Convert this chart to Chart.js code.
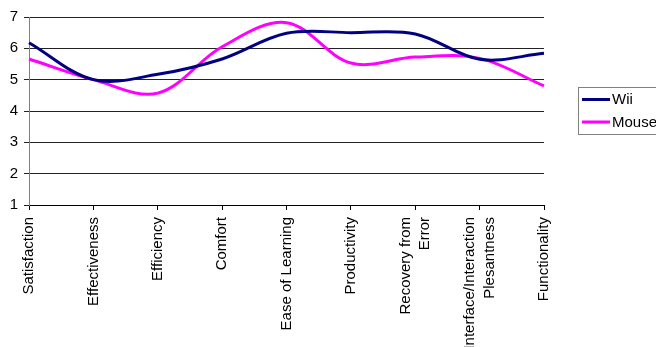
<!DOCTYPE html>
<html>
<head>
<meta charset="utf-8">
<script src="https://cdn.jsdelivr.net/npm/chart.js@4"></script>
<style>
  html, body { margin: 0; padding: 0; background: #fff; }
  #wrap { width: 656px; height: 347px; position: relative; }
</style>
</head>
<body>
<div id="wrap"><canvas id="c" width="656" height="347"></canvas></div>
<script>
// Usability ratings per criterion
const categories = [
  ['Satisfaction'],
  ['Effectiveness'],
  ['Efficiency'],
  ['Comfort'],
  ['Ease of Learning'],
  ['Productivity'],
  ['Recovery from', 'Error'],
  ['Interface/Interaction', 'Plesantness'],
  ['Functionality']
];
const seriesNames = ['Wii', 'Mouse'];
const wiiScores   = [6.18, 5.0, 5.17, 5.66, 6.48, 6.5, 6.46, 5.65, 5.84];
const mouseScores = [5.66, 5.0, 4.57, 6.05, 6.82, 5.53, 5.72, 5.68, 4.8];
const yRange = { min: 1, max: 7, step: 1 };

const FONT = 'Liberation Sans, Arial, Helvetica, sans-serif';
const FONT_SIZE = 15;

// Category labels: rotated, multi-line labels centred on their tick
const categoryLabels = {
  id: 'categoryLabels',
  afterDraw(chart) {
    const xs = chart.scales.x;
    const ctx = chart.ctx;
    const lh = 19.5;
    ctx.save();
    ctx.fillStyle = '#000';
    ctx.font = FONT_SIZE + 'px ' + FONT;
    ctx.textAlign = 'right';
    ctx.textBaseline = 'middle';
    categories.forEach((lines, i) => {
      const px = xs.getPixelForTick(i);
      const n = lines.length;
      lines.forEach((line, k) => {
        ctx.save();
        ctx.translate(px + (k - (n - 1) / 2) * lh, xs.top + 12);
        ctx.rotate(-Math.PI / 2);
        ctx.fillText(line, 0, 0);
        ctx.restore();
      });
    });
    ctx.restore();
  }
};

// Boxed legend with line swatches, to the right of the plot
const boxedLegend = {
  id: 'boxedLegend',
  afterDraw(chart) {
    const ctx = chart.ctx;
    const area = chart.chartArea;
    const left = area.right + 34;
    const top = 87;
    ctx.save();
    ctx.strokeStyle = '#808080';
    ctx.lineWidth = 1;
    ctx.strokeRect(left + 0.5, top + 0.5, 100, 47);
    ctx.font = FONT_SIZE + 'px ' + FONT;
    ctx.textBaseline = 'middle';
    ctx.textAlign = 'left';
    chart.data.datasets.forEach((ds, i) => {
      const y = top + 12.5 + i * 22.5;
      ctx.strokeStyle = ds.borderColor;
      ctx.lineWidth = 3;
      ctx.beginPath();
      ctx.moveTo(left + 4, y);
      ctx.lineTo(left + 32, y);
      ctx.stroke();
      ctx.fillStyle = '#000';
      ctx.fillText(ds.label, left + 34, y + 0.5);
    });
    ctx.restore();
  }
};

new Chart(document.getElementById('c'), {
  type: 'line',
  data: {
    labels: categories,
    datasets: [
      {
        label: seriesNames[0],
        data: wiiScores,
        borderColor: '#000080',
        backgroundColor: '#000080',
        borderWidth: 3,
        pointRadius: 0,
        tension: 0.35,
        fill: false
      },
      {
        label: seriesNames[1],
        data: mouseScores,
        borderColor: '#FF00FF',
        backgroundColor: '#FF00FF',
        borderWidth: 3,
        pointRadius: 0,
        tension: 0.35,
        fill: false
      }
    ]
  },
  options: {
    responsive: false,
    animation: false,
    events: [],
    layout: { padding: { top: 17, right: 112, left: 0, bottom: 0 } },
    plugins: {
      legend: { display: false },
      tooltip: { enabled: false },
      title: { display: false }
    },
    scales: {
      x: {
        type: 'category',
        offset: false,
        grid: {
          drawOnChartArea: false,
          drawTicks: true,
          tickLength: 5,
          color: '#000'
        },
        border: { color: '#000', width: 1 },
        ticks: {
          autoSkip: false,
          maxRotation: 90,
          minRotation: 90,
          color: 'rgba(0,0,0,0)',
          font: { family: FONT, size: FONT_SIZE }
        },
        afterFit(scale) { scale.height = 142; }
      },
      y: {
        min: yRange.min,
        max: yRange.max,
        grid: {
          color: '#222',
          lineWidth: 1,
          drawTicks: true,
          tickLength: 5
        },
        border: { color: '#808080', width: 1 },
        ticks: {
          stepSize: yRange.step,
          padding: 6,
          color: '#000',
          font: { family: FONT, size: FONT_SIZE }
        },
        afterFit(scale) { scale.width = 29; }
      }
    }
  },
  plugins: [categoryLabels, boxedLegend]
});
</script>
</body>
</html>
